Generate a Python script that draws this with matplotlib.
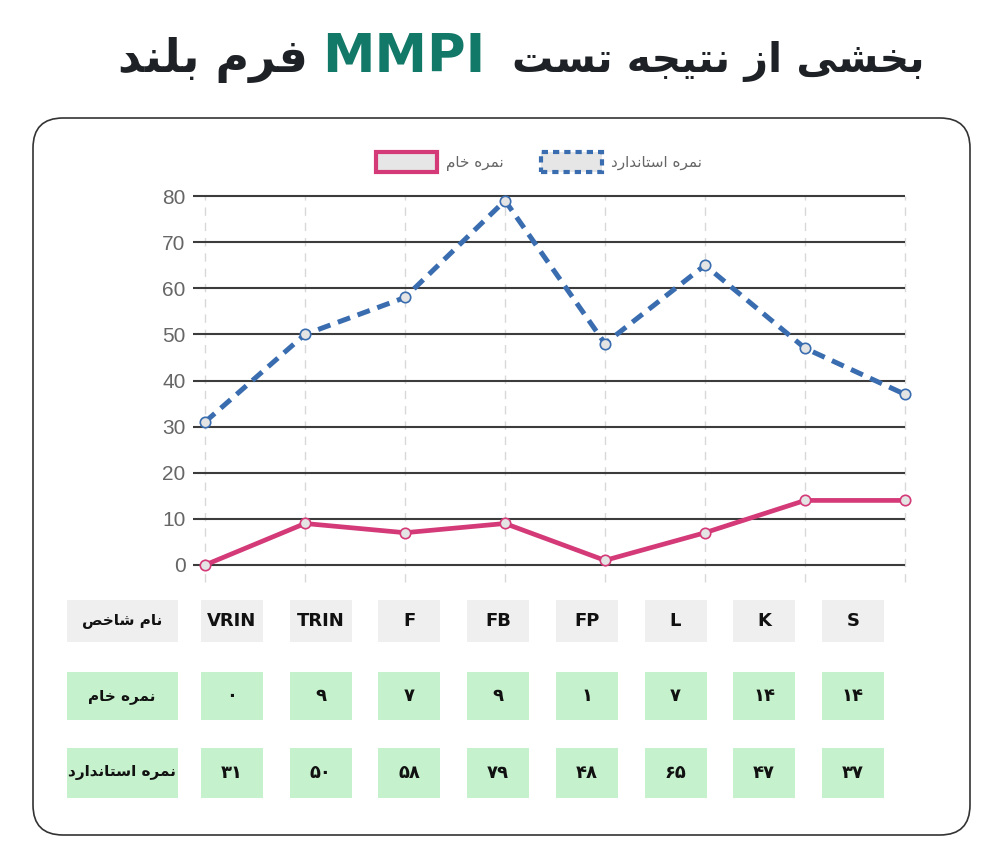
import numpy as np
import matplotlib
matplotlib.use("Agg")
import matplotlib.pyplot as plt
from matplotlib.patches import FancyBboxPatch, Rectangle, Patch

# data (left to right as in the chart)
scales = ["VRIN", "TRIN", "F", "FB", "FP", "L", "K", "S"]
raw_scores = [0, 9, 7, 9, 1, 7, 14, 14]
std_scores = [31, 50, 58, 79, 48, 65, 47, 37]
yticks = [0, 10, 20, 30, 40, 50, 60, 70, 80]

title_right = "بخشی از نتیجه تست"
title_mid = "MMPI"
title_left = "فرم بلند"
lbl_raw = "نمره خام"
lbl_std = "نمره استاندارد"
lbl_name = "نام شاخص"

BLUE = "#3a6db0"
PINK = "#d43a78"
TEAL = "#127868"

# --- tiny persian shaper: presentation forms + reverse for RTL ---
FORMS = {
    'ا': ('\uFE8D', '\uFE8E'),
    'ب': ('\uFE8F', '\uFE90', '\uFE91', '\uFE92'),
    'ت': ('\uFE95', '\uFE96', '\uFE97', '\uFE98'),
    'ج': ('\uFE9D', '\uFE9E', '\uFE9F', '\uFEA0'),
    'خ': ('\uFEA5', '\uFEA6', '\uFEA7', '\uFEA8'),
    'د': ('\uFEA9', '\uFEAA'),
    'ر': ('\uFEAD', '\uFEAE'),
    'ز': ('\uFEAF', '\uFEB0'),
    'س': ('\uFEB1', '\uFEB2', '\uFEB3', '\uFEB4'),
    'ش': ('\uFEB5', '\uFEB6', '\uFEB7', '\uFEB8'),
    'ص': ('\uFEB9', '\uFEBA', '\uFEBB', '\uFEBC'),
    'ف': ('\uFED1', '\uFED2', '\uFED3', '\uFED4'),
    'ل': ('\uFEDD', '\uFEDE', '\uFEDF', '\uFEE0'),
    'م': ('\uFEE1', '\uFEE2', '\uFEE3', '\uFEE4'),
    'ن': ('\uFEE5', '\uFEE6', '\uFEE7', '\uFEE8'),
    'ه': ('\uFEE9', '\uFEEA', '\uFEEB', '\uFEEC'),
    'ی': ('\uFBFC', '\uFBFD', '\uFBFE', '\uFBFF'),
}


def fa(s):
    out = []
    for i, c in enumerate(s):
        if c not in FORMS:
            out.append(c)
            continue
        prev = s[i - 1] if i > 0 else ''
        nxt = s[i + 1] if i + 1 < len(s) else ''
        jp = prev in FORMS and len(FORMS[prev]) == 4
        jn = nxt in FORMS and len(FORMS[c]) == 4
        f = FORMS[c]
        if jp and jn:
            out.append(f[3])
        elif jp:
            out.append(f[1])
        elif jn:
            out.append(f[2])
        else:
            out.append(f[0])
    return ''.join(out[::-1])


def fa_num(n):
    return str(n).translate(str.maketrans('0123456789', '۰۱۲۳۴۵۶۷۸۹'))


W, H = 1000, 858
fig = plt.figure(figsize=(10, 8.58), dpi=100)
fig.patch.set_facecolor("white")


def fx(px):
    return px / W


def fy(py):
    return 1 - py / H


# rounded card
card = FancyBboxPatch((0.33, (H - 835) / 100), 9.37, (835 - 118) / 100,
                      boxstyle="round,pad=0,rounding_size=0.3",
                      transform=fig.dpi_scale_trans, fc="white", ec="#333333", lw=1.2,
                      zorder=-10)
fig.patches.append(card)

# title: MMPI in teal between the two persian pieces
fig.text(fx(308), fy(72), fa(title_left), color="#1e2226", fontsize=33, fontweight="bold",
         ha="right", va="baseline", family="DejaVu Sans")
fig.text(fx(512), fy(72), fa(title_right), color="#1e2226", fontsize=29.5, fontweight="bold",
         ha="left", va="baseline", family="DejaVu Sans")
fig.text(fx(404), fy(72), title_mid, color=TEAL, fontsize=38, fontweight="bold",
         ha="center", va="baseline", family="DejaVu Sans")

# chart axes
ax = fig.add_axes([fx(205), fy(565), fx(905) - fx(205), (565 - 196) / H])
ax.patch.set_alpha(0)
x = np.arange(len(scales))
ax.set_xlim(0, len(scales) - 1)
ax.set_ylim(0, 80)
for s in ax.spines.values():
    s.set_visible(False)
ax.set_xticks([])
ax.set_yticks(yticks)
ax.tick_params(axis="y", length=0, pad=14, labelsize=15, labelcolor="#666666")
for t in ax.get_yticklabels():
    t.set_family("Liberation Sans")

ax.hlines(yticks, -0.12, len(scales) - 1, color="#3c3c3c", lw=1.5, clip_on=False, zorder=1)
ax.vlines(x, -3.6, 80, color="#d8d8d8", lw=1, linestyles=(0, (6, 5)), clip_on=False, zorder=0)

ax.plot(x, std_scores, color=BLUE, lw=3.6, linestyle=(0, (2.6, 1.6)), marker="o",
        ms=7.5, mfc="#e4e4e4", mec=BLUE, mew=1.2, clip_on=False, zorder=3)
ax.plot(x, raw_scores, color=PINK, lw=3.4, marker="o",
        ms=7.5, mfc="#e4e4e4", mec=PINK, mew=1.2, clip_on=False, zorder=3)

# legend
handles = [Patch(fc="#e6e6e6", ec=PINK, lw=3),
           Patch(fc="#e6e6e6", ec=BLUE, lw=3, linestyle=(0, (1.5, 1.2)))]
fig.legend(handles, [fa(lbl_raw), fa(lbl_std)], loc="center", ncol=2,
           bbox_to_anchor=(fx(539), fy(162)), frameon=False, fontsize=11,
           handlelength=4.0, handleheight=1.7, handletextpad=0.6, columnspacing=2.4,
           labelcolor="#666666")

# table under chart
col_left = [201 + i * 88.7 for i in range(len(scales))]
cw = 62
rows = [(600, 642, "#efefef"), (672, 720, "#c5f2cc"), (748, 798, "#c5f2cc")]
row_text = [scales, [fa_num(v) for v in raw_scores], [fa_num(v) for v in std_scores]]
row_label = [fa(lbl_name), fa(lbl_raw), fa(lbl_std)]

for (top, bot, col), texts, lab in zip(rows, row_text, row_label):
    fig.patches.append(Rectangle((fx(67), fy(bot)), fx(178) - fx(67), (bot - top) / H,
                                 transform=fig.transFigure, fc=col, ec="none"))
    fig.text(fx(122), fy((top + bot) / 2), lab, ha="center", va="center",
             fontsize=11, fontweight="bold", color="#111111", family="DejaVu Sans")
    for cl, t in zip(col_left, texts):
        fig.patches.append(Rectangle((fx(cl), fy(bot)), fx(cw), (bot - top) / H,
                                     transform=fig.transFigure, fc=col, ec="none"))
        fig.text(fx(cl + cw / 2), fy((top + bot) / 2), t, ha="center", va="center",
                 fontsize=13, fontweight="bold", color="#111111", family="DejaVu Sans")

fig.savefig("out.png", dpi=100, facecolor=fig.get_facecolor())
